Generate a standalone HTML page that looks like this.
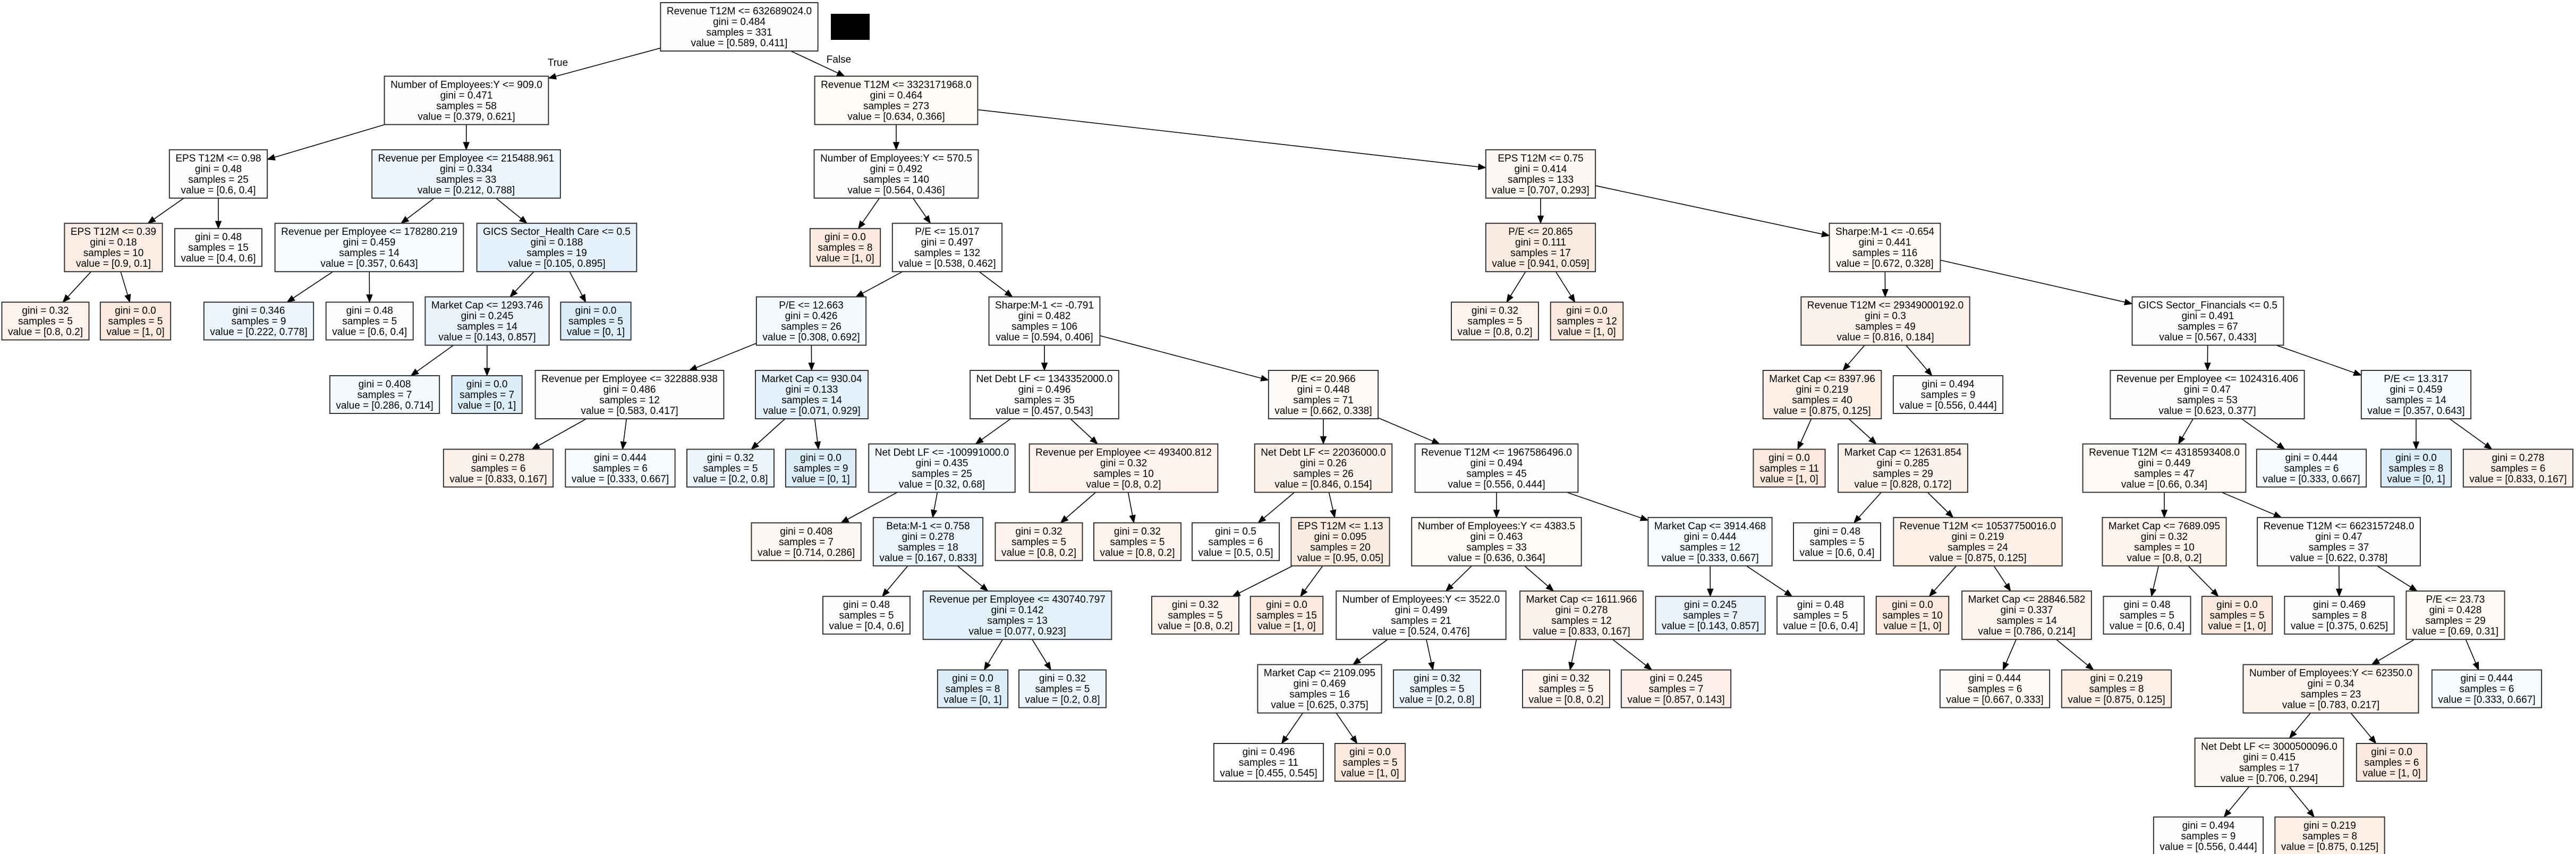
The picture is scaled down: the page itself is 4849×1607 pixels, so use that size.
<!DOCTYPE html>
<html><head><meta charset="utf-8">
<style>
html,body{margin:0;padding:0;background:#fff;}
svg{display:block;}
text{font-family:"Liberation Sans",Arial,sans-serif;font-size:19px;fill:#000;}
</style></head>
<body>
<svg id="s" xmlns="http://www.w3.org/2000/svg" width="4849" height="1607" viewBox="0 0 4849 1607">
<rect x="0" y="0" width="4849" height="1607" fill="#fff"/>
<g id="edges"></g><g id="nodes"></g>
<rect x="1564" y="26" width="73" height="49" fill="#000"/>
<text x="1050" y="124" text-anchor="middle">True</text>
<text x="1579" y="118" text-anchor="middle">False</text>
</svg>
<script>
var N={
A:[1391.5,0,"Revenue T12M <= 632689024.0","0.484","331","0.589, 0.411"],
B:[878,1,"Number of Employees:Y <= 909.0","0.471","58","0.379, 0.621"],
C:[1687,1,"Revenue T12M <= 3323171968.0","0.464","273","0.634, 0.366"],
D:[411,2,"EPS T12M <= 0.98","0.48","25","0.6, 0.4"],
E:[877.5,2,"Revenue per Employee <= 215488.961","0.334","33","0.212, 0.788"],
F:[1687,2,"Number of Employees:Y <= 570.5","0.492","140","0.564, 0.436"],
G:[2900,2,"EPS T12M <= 0.75","0.414","133","0.707, 0.293"],
H:[213.5,3,"EPS T12M <= 0.39","0.18","10","0.9, 0.1"],
I:[411,3,null,"0.48","15","0.4, 0.6"],
J:[695,3,"Revenue per Employee <= 178280.219","0.459","14","0.357, 0.643"],
K:[1048,3,"GICS Sector_Health Care <= 0.5","0.188","19","0.105, 0.895"],
L:[1591,3,null,"0.0","8","1, 0"],
M:[1783,3,"P/E <= 15.017","0.497","132","0.538, 0.462"],
Nn:[2900,3,"P/E <= 20.865","0.111","17","0.941, 0.059"],
O:[3548,3,"Sharpe:M-1 <= -0.654","0.441","116","0.672, 0.328"],
P:[85.5,4,null,"0.32","5","0.8, 0.2"],
Q:[255,4,null,"0.0","5","1, 0"],
R:[487,4,null,"0.346","9","0.222, 0.778"],
S:[695.7,4,null,"0.48","5","0.6, 0.4"],
T:[917,4,"Market Cap <= 1293.746","0.245","14","0.143, 0.857"],
U:[1121.5,4,null,"0.0","5","0, 1"],
V:[1527,4,"P/E <= 12.663","0.426","26","0.308, 0.692"],
W:[1966,4,"Sharpe:M-1 <= -0.791","0.482","106","0.594, 0.406"],
X:[2814,4,null,"0.32","5","0.8, 0.2"],
Y:[2987,4,null,"0.0","12","1, 0"],
Z:[3549,4,"Revenue T12M <= 29349000192.0","0.3","49","0.816, 0.184"],
AA:[4156,4,"GICS Sector_Financials <= 0.5","0.491","67","0.567, 0.433"],
AB:[724,5,null,"0.408","7","0.286, 0.714"],
AC:[916.6,5,null,"0.0","7","0, 1"],
AD:[1185,5,"Revenue per Employee <= 322888.938","0.486","12","0.583, 0.417"],
AE:[1528,5,"Market Cap <= 930.04","0.133","14","0.071, 0.929"],
AF:[1966,5,"Net Debt LF <= 1343352000.0","0.496","35","0.457, 0.543"],
AG:[2491,5,"P/E <= 20.966","0.448","71","0.662, 0.338"],
AH:[3430,5,"Market Cap <= 8397.96","0.219","40","0.875, 0.125"],
AI:[3667,5,null,"0.494","9","0.556, 0.444"],
AJ:[4155,5,"Revenue per Employee <= 1024316.406","0.47","53","0.623, 0.377"],
AK:[4548,5,"P/E <= 13.317","0.459","14","0.357, 0.643"],
AL:[938,6,null,"0.278","6","0.833, 0.167"],
AM:[1167.5,6,null,"0.444","6","0.333, 0.667"],
AN:[1375,6,null,"0.32","5","0.2, 0.8"],
AO:[1545,6,null,"0.0","9","0, 1"],
AP:[1773,6,"Net Debt LF <= -100991000.0","0.435","25","0.32, 0.68"],
AQ:[2115,6,"Revenue per Employee <= 493400.812","0.32","10","0.8, 0.2"],
AR:[2491,6,"Net Debt LF <= 22036000.0","0.26","26","0.846, 0.154"],
AS:[2817,6,"Revenue T12M <= 1967586496.0","0.494","45","0.556, 0.444"],
AT:[3368,6,null,"0.0","11","1, 0"],
AU:[3582,6,"Market Cap <= 12631.854","0.285","29","0.828, 0.172"],
AV:[4074,6,"Revenue T12M <= 4318593408.0","0.449","47","0.66, 0.34"],
AW:[4351,6,null,"0.444","6","0.333, 0.667"],
AX:[4548,6,null,"0.0","8","0, 1"],
AY:[4740,6,null,"0.278","6","0.833, 0.167"],
AZ:[1517.6,7,null,"0.408","7","0.714, 0.286"],
BA:[1747,7,"Beta:M-1 <= 0.758","0.278","18","0.167, 0.833"],
BB:[1955.5,7,null,"0.32","5","0.8, 0.2"],
BC:[2141,7,null,"0.32","5","0.8, 0.2"],
BD:[2326,7,null,"0.5","6","0.5, 0.5"],
BE:[2523,7,"EPS T12M <= 1.13","0.095","20","0.95, 0.05"],
BF:[2817,7,"Number of Employees:Y <= 4383.5","0.463","33","0.636, 0.364"],
BG:[3219,7,"Market Cap <= 3914.468","0.444","12","0.333, 0.667"],
BH:[3458,7,null,"0.48","5","0.6, 0.4"],
BI:[3723,7,"Revenue T12M <= 10537750016.0","0.219","24","0.875, 0.125"],
BJ:[4074,7,"Market Cap <= 7689.095","0.32","10","0.8, 0.2"],
BK:[4402.5,7,"Revenue T12M <= 6623157248.0","0.47","37","0.622, 0.378"],
BL:[1631,8,null,"0.48","5","0.4, 0.6"],
BM:[1915,8,"Revenue per Employee <= 430740.797","0.142","13","0.077, 0.923"],
BN:[2250,8,null,"0.32","5","0.8, 0.2"],
BO:[2422,8,null,"0.0","15","1, 0"],
BP:[2675,8,"Number of Employees:Y <= 3522.0","0.499","21","0.524, 0.476"],
BQ:[2977,8,"Market Cap <= 1611.966","0.278","12","0.833, 0.167"],
BR:[3219.5,8,null,"0.245","7","0.143, 0.857"],
BS:[3427,8,null,"0.48","5","0.6, 0.4"],
BT:[3600,8,null,"0.0","10","1, 0"],
BU:[3815,8,"Market Cap <= 28846.582","0.337","14","0.786, 0.214"],
BV:[4041.5,8,null,"0.48","5","0.6, 0.4"],
BW:[4211,8,null,"0.0","5","1, 0"],
BX:[4403.5,8,null,"0.469","8","0.375, 0.625"],
BY:[4622,8,"P/E <= 23.73","0.428","29","0.69, 0.31"],
BZ:[1831,9,null,"0.0","8","0, 1"],
CA:[2000,9,null,"0.32","5","0.2, 0.8"],
CB:[2484,9,"Market Cap <= 2109.095","0.469","16","0.625, 0.375"],
CC:[2705,9,null,"0.32","5","0.2, 0.8"],
CD:[2948,9,null,"0.32","5","0.8, 0.2"],
CE:[3155,9,null,"0.245","7","0.857, 0.143"],
CF:[3755,9,null,"0.444","6","0.667, 0.333"],
CG:[3984,9,null,"0.219","8","0.875, 0.125"],
CH:[4387.5,9,"Number of Employees:Y <= 62350.0","0.34","23","0.783, 0.217"],
CI:[4681,9,null,"0.444","6","0.333, 0.667"],
CJ:[2388,10,null,"0.496","11","0.455, 0.545"],
CK:[2579,10,null,"0.0","5","1, 0"],
CL:[4271.5,10,"Net Debt LF <= 3000500096.0","0.415","17","0.706, 0.294"],
CM:[4502,10,null,"0.0","6","1, 0"],
CN:[4157,11,null,"0.494","9","0.556, 0.444"],
CO:[4385.5,11,null,"0.219","8","0.875, 0.125"]
};
var E=[["A","B"],["A","C"],["B","D"],["B","E"],["C","F"],["C","G"],["D","H"],["D","I"],["E","J"],["E","K"],["F","L"],["F","M"],["G","Nn"],["G","O"],["H","P"],["H","Q"],["J","R"],["J","S"],["K","T"],["K","U"],["M","V"],["M","W"],["Nn","X"],["Nn","Y"],["O","Z"],["O","AA"],["T","AB"],["T","AC"],["V","AD"],["V","AE"],["W","AF"],["W","AG"],["Z","AH"],["Z","AI"],["AA","AJ"],["AA","AK"],["AD","AL"],["AD","AM"],["AE","AN"],["AE","AO"],["AF","AP"],["AF","AQ"],["AG","AR"],["AG","AS"],["AH","AT"],["AH","AU"],["AJ","AV"],["AJ","AW"],["AK","AX"],["AK","AY"],["AP","AZ"],["AP","BA"],["AQ","BB"],["AQ","BC"],["AR","BD"],["AR","BE"],["AS","BF"],["AS","BG"],["AU","BH"],["AU","BI"],["AV","BJ"],["AV","BK"],["BA","BL"],["BA","BM"],["BE","BN"],["BE","BO"],["BF","BP"],["BF","BQ"],["BG","BR"],["BG","BS"],["BI","BT"],["BI","BU"],["BJ","BV"],["BJ","BW"],["BK","BX"],["BK","BY"],["BM","BZ"],["BM","CA"],["BP","CB"],["BP","CC"],["BQ","CD"],["BQ","CE"],["BU","CF"],["BU","CG"],["BY","CH"],["BY","CI"],["CB","CJ"],["CB","CK"],["CH","CL"],["CH","CM"],["CL","CN"],["CL","CO"]];
var NS="http://www.w3.org/2000/svg";
var gN=document.getElementById("nodes"),gE=document.getElementById("edges");
function el(t,a,p){var e=document.createElementNS(NS,t);for(var k in a)e.setAttribute(k,a[k]);p.appendChild(e);return e;}
function fill(v){var p0=parseFloat(v.split(",")[0]),p1=1-p0,m=Math.max(p0,p1);var r=(m-Math.min(p0,p1))/m;var a=r*r*0.17;
 var c=p0>=p1?[229,129,57]:[57,157,229];
 return "rgb("+c.map(function(x){return Math.round(255-a*(255-x));}).join(",")+")";}
var B={};
for(var id in N){var d=N[id];var cy=50.5+138.4*d[1];
 var lines=[];if(d[2])lines.push(d[2]);lines.push("gini = "+d[3]);lines.push("samples = "+d[4]);lines.push("value = ["+d[5]+"]");
 var n=lines.length,h=n==4?91:71;
 var g=el("g",{},gN);var r=el("rect",{y:cy-h/2,height:h,fill:fill(d[5]),stroke:"#333","stroke-width":2},g);
 var mw=0;
 for(var i=0;i<n;i++){var t=el("text",{x:d[0],y:cy-(n-1)*10+i*20+6.5,"text-anchor":"middle"},g);t.textContent=lines[i];
  var w=t.getComputedTextLength?t.getComputedTextLength():lines[i].length*9.5;if(w>mw)mw=w;}
 var bw=mw+23;r.setAttribute("x",d[0]-bw/2);r.setAttribute("width",bw);
 B[id]={cx:d[0],cy:cy,w:bw,h:h};}
function clip(b,dx,dy){var tx=dx?(b.w/2)/Math.abs(dx):1e9,ty=dy?(b.h/2)/Math.abs(dy):1e9;return Math.min(tx,ty);}
E.forEach(function(e){var p=B[e[0]],c=B[e[1]];var dx=c.cx-p.cx,dy=c.cy-p.cy;
 var t0=clip(p,dx,dy),t1=1-clip(c,dx,dy);
 var x0=p.cx+dx*t0,y0=p.cy+dy*t0,x1=p.cx+dx*t1,y1=p.cy+dy*t1;
 var L=Math.hypot(x1-x0,y1-y0),ux=(x1-x0)/L,uy=(y1-y0)/L,al=14,aw=5.5;
 var bx=x1-ux*al,by=y1-uy*al;
 el("line",{x1:x0,y1:y0,x2:bx,y2:by,stroke:"#000","stroke-width":1.6},gE);
 el("polygon",{points:x1+","+y1+" "+(bx-uy*aw)+","+(by+ux*aw)+" "+(bx+uy*aw)+","+(by-ux*aw),fill:"#000",stroke:"#000","stroke-width":1},gE);});
</script>
</body></html>
